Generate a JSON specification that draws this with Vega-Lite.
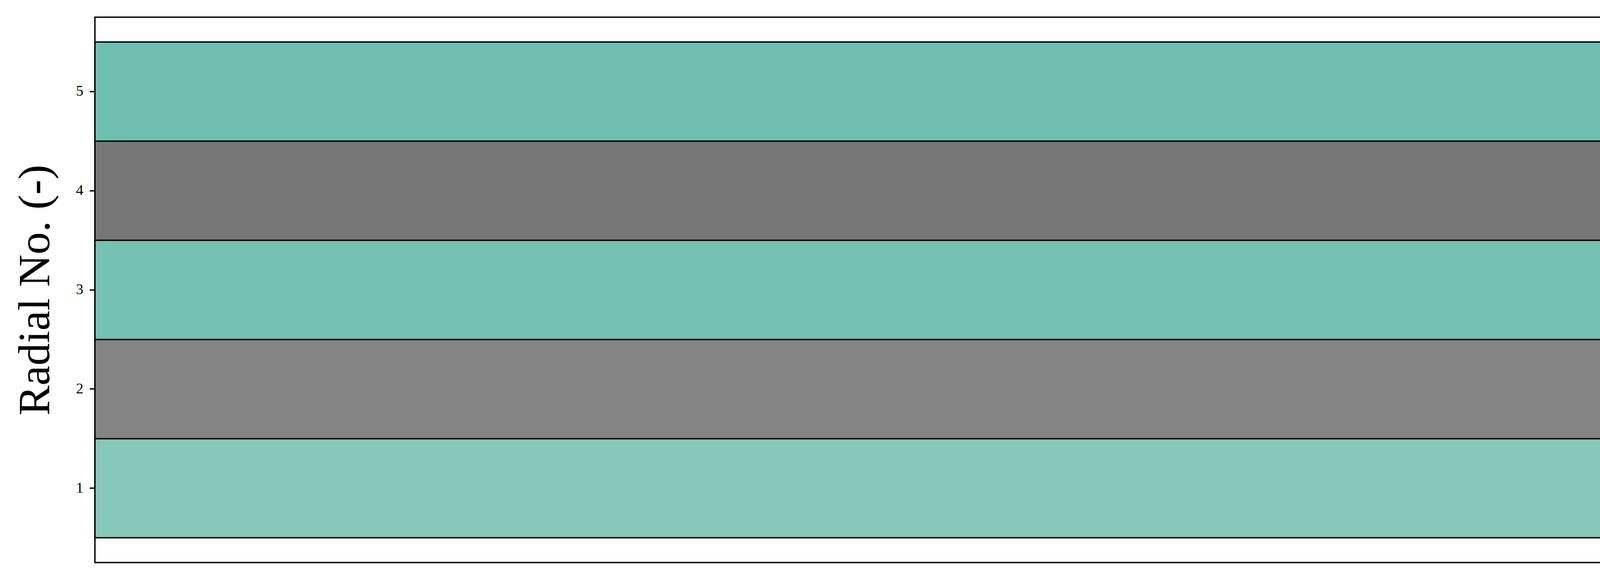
{
  "$schema": "https://vega.github.io/schema/vega-lite/v6.json",
  "width": 6012,
  "height": 1396,
  "autosize": {"type": "none"},
  "padding": {"left": 243, "top": 44, "right": 45, "bottom": 60},
  "background": "white",
  "data": {
    "values": [
      {"radial": 1, "value": 1},
      {"radial": 2, "value": 1},
      {"radial": 3, "value": 1},
      {"radial": 4, "value": 1},
      {"radial": 5, "value": 1}
    ]
  },
  "mark": {"type": "bar", "stroke": "black", "strokeWidth": 3.5, "opacity": 1},
  "encoding": {
    "y": {
      "field": "radial",
      "type": "ordinal",
      "sort": "descending",
      "scale": {"paddingInner": 0, "paddingOuter": 0.25},
      "axis": {
        "title": "Radial No. (-)",
        "titleFont": "Liberation Serif",
        "titleFontSize": 115,
        "titleFontWeight": "normal",
        "titleColor": "black",
        "titlePadding": 45,
        "labelFont": "Liberation Serif",
        "labelFontSize": 38,
        "labelColor": "black",
        "labelPadding": 16,
        "labelAngle": 0,
        "tickSize": 14,
        "tickWidth": 3.5,
        "tickColor": "black",
        "domain": false,
        "grid": false
      }
    },
    "x": {
      "field": "value",
      "type": "quantitative",
      "scale": {"domain": [0, 1.001], "nice": false, "zero": true},
      "axis": null
    },
    "color": {
      "field": "radial",
      "type": "ordinal",
      "scale": {
        "domain": [1, 2, 3, 4, 5],
        "range": ["#86c8ba", "#848484", "#75c2b2", "#777777", "#6fbfb0"]
      },
      "legend": null
    }
  },
  "config": {
    "view": {"stroke": "black", "strokeWidth": 3.5}
  }
}
